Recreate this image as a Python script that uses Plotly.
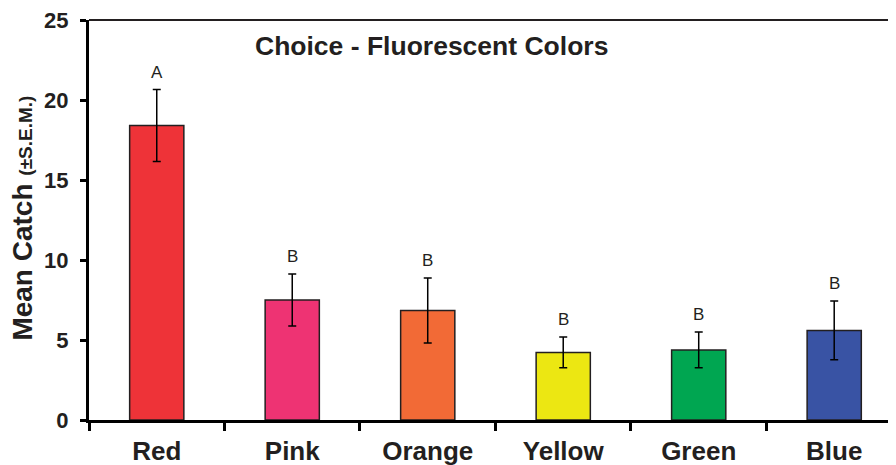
import plotly.graph_objects as go

categories = ["Red", "Pink", "Orange", "Yellow", "Green", "Blue"]
mean_catch = [18.4, 7.5, 6.85, 4.22, 4.38, 5.6]
sem = [2.25, 1.62, 2.03, 0.96, 1.12, 1.83]
letters = ["A", "B", "B", "B", "B", "B"]
bar_colors = ["#EE3338", "#EE3373", "#F26A36", "#ECE712", "#00A651", "#3953A4"]
y_ticks = [0, 5, 10, 15, 20, 25]

FONT = "Liberation Sans, Arial, sans-serif"
INK = "#231f20"

fig = go.Figure()
fig.add_trace(go.Bar(
    x=categories,
    y=mean_catch,
    width=0.4,
    marker=dict(color=bar_colors, line=dict(color=INK, width=1.5)),
    error_y=dict(type="data", array=sem, visible=True, color="black",
                 thickness=1.5, width=4),
    showlegend=False,
))

for c, m, s, l in zip(categories, mean_catch, sem, letters):
    fig.add_annotation(x=c, y=m + s, text=l, showarrow=False,
                       yanchor="bottom", yshift=6,
                       font=dict(family=FONT, size=17, color=INK))

fig.add_annotation(xref="paper", yref="paper", x=0.425, y=0.935,
                   text="<b>Choice - Fluorescent Colors</b>", showarrow=False,
                   xanchor="center", yanchor="middle",
                   font=dict(family=FONT, size=26.5, color=INK))

fig.add_annotation(xref="paper", yref="paper", x=-0.0835, y=0.505,
                   text="<b>Mean Catch <span style='font-size:19px'>(±S.E.M.)</span></b>",
                   showarrow=False, textangle=-90,
                   xanchor="center", yanchor="middle",
                   font=dict(family=FONT, size=28, color=INK))

fig.add_shape(type="line", xref="x domain", yref="y domain", x0=0, x1=1, y0=1, y1=1,
              layer="above", line=dict(color=INK, width=2))

# page body has an 8px margin, so the figure is sized to the remaining window
fig.update_layout(
    width=888, height=457,
    margin=dict(l=81, r=0, t=12, b=45, autoexpand=False),
    paper_bgcolor="white", plot_bgcolor="white",
    xaxis=dict(
        range=[-0.5, 5.456],
        automargin=False,
        showline=True, linecolor="black", linewidth=3,
        ticks="outside", tickson="boundaries", ticklen=8, tickwidth=2.5,
        tickcolor="black",
        tickvals=categories,
        ticktext=[f"<b>{c}</b>" for c in categories],
        tickfont=dict(family=FONT, size=26, color=INK),
        ticklabelstandoff=6,
        ticklabeloverflow="allow",
        showgrid=False, zeroline=False,
    ),
    yaxis=dict(
        range=[0, 25],
        automargin=False,
        tickvals=y_ticks,
        ticktext=[f"<b>{v}</b>" for v in y_ticks],
        showline=True, linecolor="black", linewidth=3,
        ticks="outside", ticklen=6, tickwidth=2.5, tickcolor="black",
        tickfont=dict(family=FONT, size=22, color=INK),
        ticklabelstandoff=7,
        ticklabeloverflow="allow",
        showgrid=False, zeroline=False,
    ),
)

fig.write_html("out.html")
